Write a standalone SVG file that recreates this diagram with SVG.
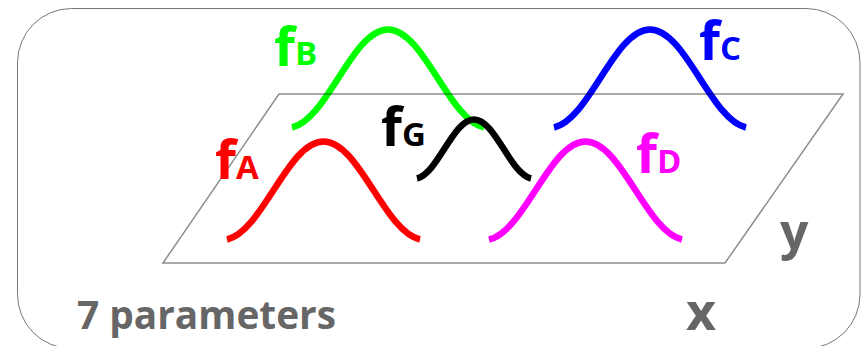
<svg xmlns="http://www.w3.org/2000/svg" width="865" height="346" viewBox="0 0 865 346">
  <style>
    .bell { fill: none; stroke-width: 6.5; stroke-linecap: butt; }
    .f { font-family: "Open Sans", "DejaVu Sans", sans-serif; font-weight: bold; font-size: 54px; }
    .sub { font-family: "Open Sans", "DejaVu Sans", sans-serif; font-weight: bold; font-size: 33px; }
    .axis { font-family: "Open Sans", "DejaVu Sans", sans-serif; font-weight: bold; fill: #666666; }
  </style>
  <rect width="865" height="346" fill="#ffffff"/>
  <g id="frame">
    <rect x="17.5" y="8.5" width="842.5" height="340" rx="54" ry="54" fill="none" stroke="#777777" stroke-width="1"/>
  </g>
  <g id="fB">
    <path class="bell" stroke="#00ff00" d="M292,127.5 C327.5,119.5 352.5,29.5 388,29.5 C423.5,29.5 448.5,119.5 484,127.5"/>
    <text class="f" x="274" y="66" fill="#00ff00">f</text>
    <text class="sub" x="295" y="65" fill="#00ff00">B</text>
  </g>
  <g id="fC">
    <path class="bell" stroke="#0000ff" d="M554,127.5 C589.5,119.5 614.5,29.5 650,29.5 C685.5,29.5 710.5,119.5 746,127.5"/>
    <text class="f" x="699" y="60" fill="#0000ff">f</text>
    <text class="sub" x="720" y="60" fill="#0000ff">C</text>
  </g>
  <g id="plane">
    <polygon points="279,94 843,94 725,263 163,263" fill="none" stroke="#000000" stroke-opacity="0.45" stroke-width="1.5"/>
  </g>
  <g id="fA">
    <path class="bell" stroke="#ff0000" d="M227,239.5 C262.7,231.5 287.8,141.5 323.5,141.5 C359.2,141.5 384.3,231.5 420,239.5"/>
    <text class="f" x="215" y="179" fill="#ff0000">f</text>
    <text class="sub" x="236" y="179" fill="#ff0000">A</text>
  </g>
  <g id="fD">
    <path class="bell" stroke="#ff00ff" d="M489,239.5 C524.7,231.5 549.8,141.5 585.5,141.5 C621.2,141.5 646.3,231.5 682,239.5"/>
    <text class="f" x="636" y="173" fill="#ff00ff">f</text>
    <text class="sub" x="657" y="173" fill="#ff00ff">D</text>
  </g>
  <g id="fG">
    <path class="bell" stroke="#000000" stroke-width="5.5" d="M417,178.5 C438,173.5 453,119.5 474,119.5 C495,119.5 510,173.5 531,178.5"/>
    <text class="f" x="381" y="146" fill="#000000">f</text>
    <text class="sub" x="402" y="146" fill="#000000">G</text>
  </g>
  <g id="axes">
    <text class="axis" x="780" y="249" font-size="50">y</text>
    <text class="axis" x="686" y="330" font-size="52">x</text>
    <text class="axis" x="77" y="329" font-size="39" textLength="259" lengthAdjust="spacingAndGlyphs">7 parameters</text>
  </g>
</svg>
